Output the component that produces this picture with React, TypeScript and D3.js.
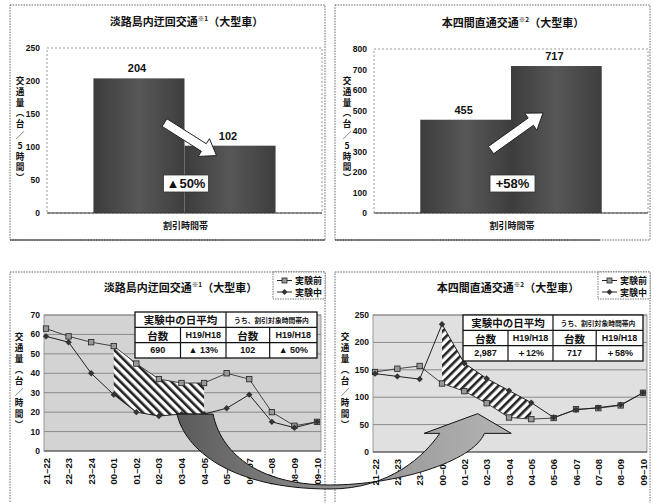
import React from 'react';
import * as d3 from 'd3';

// ---- data ----
const barGroups = ['実験前', '実験中'];
const awajiTotals = [204, 102];
const honshiTotals = [455, 717];
const awajiBarTicks = [0, 50, 100, 150, 200, 250];
const honshiBarTicks = [0, 100, 200, 300, 400, 500, 600, 700, 800];
const awajiChange = '▲50%';
const honshiChange = '+58%';

const hours = ['21-22', '22-23', '23-24', '00-01', '01-02', '02-03', '03-04', '04-05', '05-06', '06-07', '07-08', '08-09', '09-10'];
const discountHours = ['00-01', '01-02', '02-03', '03-04', '04-05'];
const awajiBefore = [63, 59, 56, 54, 45, 37, 35, 35, 40, 37, 20, 13, 15];
const awajiDuring = [59, 56, 40, 29, 20, 18, 19, 19, 22, 29, 15, 12, 15];
const honshiBefore = [146, 152, 157, 125, 111, 89, 63, 60, 62, 78, 80, 85, 108];
const honshiDuring = [143, 138, 133, 233, 162, 134, 112, 90, 63, 77, 81, 86, 108];
const awajiLineTicks = [0, 10, 20, 30, 40, 50, 60, 70];
const honshiLineTicks = [0, 50, 100, 150, 200, 250];

const tableTop = ['実験中の日平均', 'うち、割引対象時間帯内'];
const tableHead = ['台数', 'H19/H18', '台数', 'H19/H18'];
const awajiTable = ['690', '▲ 13%', '102', '▲ 50%'];
const honshiTable = ['2,987', '＋12%', '717', '＋58%'];
const legendLabels = ['実験前', '実験中'];

const barAxisTitle = ['交', '通', '量', '︵', '台', '／', '5', '時', '間', '︶'];
const lineAxisTitle = ['交', '通', '量', '︵', '台', '／', '時', '間', '︶'];

const FONT_JP = '"Noto Sans CJK JP", "Noto Sans", sans-serif';
const FONT_NUM = '"Liberation Sans Narrow", "Liberation Sans", Arial, sans-serif';

type Box = { x0: number; x1: number; y0: number; y1: number };

function VerticalTitle({ chars, x, y0, step }: { chars: string[]; x: number; y0: number; step: number }) {
  return (
    <g fontFamily={FONT_JP} fontWeight={700} fontSize={8.6} fill="#111" textAnchor="middle">
      {chars.map((c, i) => (
        <text key={i} x={x} y={y0 + i * step} dominantBaseline="central">{c}</text>
      ))}
    </g>
  );
}

function Title({ x, y, main, note }: { x: number; y: number; main: string; note: string }) {
  return (
    <text x={x} y={y} textAnchor="middle" fontFamily={FONT_JP} fontWeight={700} fontSize={11} fill="#111">
      {main}
      <tspan fontSize={6.5} dy={-5}>{note}</tspan>
      <tspan dy={5}>（大型車）</tspan>
    </text>
  );
}

function Frame({ x, y, w, h }: { x: number; y: number; w: number; h: number }) {
  return <rect x={x} y={y} width={w} height={h} fill="#fff" stroke="#666" strokeWidth={1} strokeDasharray="1.5 1.2" />;
}

function blockArrow(tail: [number, number], tip: [number, number]) {
  const dx = tip[0] - tail[0], dy = tip[1] - tail[1];
  const len = Math.hypot(dx, dy);
  const ux = dx / len, uy = dy / len;
  const nx = -uy, ny = ux;
  const w = 4.5, hw = 10.5, hl = 15;
  const bx = tip[0] - ux * hl, by = tip[1] - uy * hl;
  const pts: [number, number][] = [
    [tail[0] + nx * w, tail[1] + ny * w],
    [bx + nx * w, by + ny * w],
    [bx + nx * hw, by + ny * hw],
    tip,
    [bx - nx * hw, by - ny * hw],
    [bx - nx * w, by - ny * w],
    [tail[0] - nx * w, tail[1] - ny * w],
  ];
  return 'M' + pts.map((p) => p.join(',')).join('L') + 'Z';
}

function BarChart({ plot, title, note, values, ticks, change, arrowFrom, arrowTo, yTitleX }: {
  plot: Box; title: string; note: string; values: number[]; ticks: number[]; change: string;
  arrowFrom: number; arrowTo: number; yTitleX: number;
}) {
  const x = d3.scaleBand<string>().domain(barGroups).range([plot.x0, plot.x1]).paddingInner(0).paddingOuter(0.51);
  const y = d3.scaleLinear().domain([0, ticks[ticks.length - 1]]).range([plot.y1, plot.y0]);
  const edge = x(barGroups[1])!;
  const cx = (plot.x0 + plot.x1) / 2;
  const arrow = blockArrow([edge - 20, y(arrowFrom)], [edge + 32, y(arrowTo)]);
  return (
    <g>
      <Title x={cx + 2} y={plot.y0 - 22} main={title} note={note} />
      <rect x={plot.x0} y={plot.y0} width={plot.x1 - plot.x0} height={plot.y1 - plot.y0} fill="#fff" stroke="#999" strokeDasharray="2 2" />
      {values.map((v, i) => (
        <rect key={i} x={x(barGroups[i])} y={y(v)} width={x.bandwidth()} height={y(0) - y(v)} fill="url(#barFill)" />
      ))}
      <line x1={plot.x0} x2={plot.x1} y1={plot.y1} y2={plot.y1} stroke="#333" strokeWidth={1} />
      {values.map((v, i) => (
        <text key={i} x={x(barGroups[i])! + x.bandwidth() / 2 - 2} y={y(v) - 6} textAnchor="middle"
          fontFamily={FONT_NUM} fontWeight={700} fontSize={11} fill="#111">{v}</text>
      ))}
      {ticks.map((t) => (
        <text key={t} x={plot.x0 - 7} y={y(t)} textAnchor="end" dominantBaseline="central"
          fontFamily={FONT_NUM} fontWeight={700} fontSize={8.5} fill="#111">{t}</text>
      ))}
      <path d={arrow} fill="#fff" stroke="#222" strokeWidth={1} />
      <rect x={edge - 21} y={plot.y1 - 38} width={45} height={17} fill="#fff" stroke="#333" strokeWidth={0.8} />
      <text x={edge + 1.5} y={plot.y1 - 29.5} textAnchor="middle" dominantBaseline="central"
        fontFamily={FONT_NUM} fontWeight={700} fontSize={13} fill="#111">{change}</text>
      <text x={cx + 1} y={plot.y1 + 16} textAnchor="middle" fontFamily={FONT_JP} fontWeight={700} fontSize={9} fill="#111">割引時間帯</text>
      <VerticalTitle chars={barAxisTitle} x={yTitleX} y0={80} step={10.8} />
    </g>
  );
}

function DataTable({ box, cells }: { box: Box; cells: string[] }) {
  const fr = [0, 0.25, 0.5, 0.74, 1];
  const cx = fr.map((f) => box.x0 + f * (box.x1 - box.x0));
  const rh = (box.y1 - box.y0) / 3;
  const ry = [0, 1, 2, 3].map((i) => box.y0 + i * rh);
  const mid = (a: number, b: number) => (a + b) / 2;
  return (
    <g fontFamily={FONT_JP} fontWeight={700} fill="#111">
      <rect x={box.x0} y={box.y0} width={box.x1 - box.x0} height={box.y1 - box.y0} fill="#fff" stroke="#111" strokeWidth={1.3} />
      <line x1={box.x0} x2={box.x1} y1={ry[1]} y2={ry[1]} stroke="#111" strokeWidth={1.2} />
      <line x1={box.x0} x2={box.x1} y1={ry[2]} y2={ry[2]} stroke="#111" strokeWidth={1.2} />
      <line x1={cx[2]} x2={cx[2]} y1={ry[0]} y2={ry[3]} stroke="#111" strokeWidth={1.2} />
      <line x1={cx[1]} x2={cx[1]} y1={ry[1]} y2={ry[3]} stroke="#111" strokeWidth={1.2} />
      <line x1={cx[3]} x2={cx[3]} y1={ry[1]} y2={ry[3]} stroke="#111" strokeWidth={1.2} />
      <text x={mid(cx[0], cx[2])} y={mid(ry[0], ry[1])} textAnchor="middle" dominantBaseline="central" fontSize={10.5}>{tableTop[0]}</text>
      <text x={mid(cx[2], cx[4])} y={mid(ry[0], ry[1])} textAnchor="middle" dominantBaseline="central" fontSize={6.8}>{tableTop[1]}</text>
      {tableHead.map((t, i) => (
        <text key={i} x={mid(cx[i], cx[i + 1])} y={mid(ry[1], ry[2])} textAnchor="middle" dominantBaseline="central"
          fontSize={i % 2 === 0 ? 10.5 : 9} fontFamily={i % 2 === 0 ? FONT_JP : FONT_NUM}>{t}</text>
      ))}
      {cells.map((t, i) => (
        <text key={i} x={mid(cx[i], cx[i + 1])} y={mid(ry[2], ry[3])} textAnchor="middle" dominantBaseline="central"
          fontSize={9} fontFamily={FONT_NUM}>{t}</text>
      ))}
    </g>
  );
}

function Legend({ x0, y0 }: { x0: number; y0: number }) {
  return (
    <g>
      <rect x={x0} y={y0} width={52} height={27} fill="#fff" stroke="#555" strokeWidth={0.8} strokeDasharray="1.5 1" />
      {legendLabels.map((l, i) => {
        const yy = y0 + 8.5 + i * 11.5;
        return (
          <g key={l}>
            <line x1={x0 + 4} x2={x0 + 19} y1={yy} y2={yy} stroke="#222" strokeWidth={1} />
            {i === 0 ? (
              <rect x={x0 + 9} y={yy - 2.5} width={5} height={5} fill="#999" stroke="#222" strokeWidth={0.8} />
            ) : (
              <path d={`M${x0 + 11.5},${yy - 3}L${x0 + 14.5},${yy}L${x0 + 11.5},${yy + 3}L${x0 + 8.5},${yy}Z`} fill="#333" />
            )}
            <text x={x0 + 22} y={yy} dominantBaseline="central" fontFamily={FONT_JP} fontWeight={700} fontSize={9} fill="#111">{l}</text>
          </g>
        );
      })}
    </g>
  );
}

function LineChart({ plot, x, y, title, note, before, during, ticks, table, tableBox, legendX, hatch, bg, yTitleX }: {
  plot: Box; x: d3.ScalePoint<string>; y: d3.ScaleLinear<number, number>; title: string; note: string;
  before: number[]; during: number[]; ticks: number[]; table: string[]; tableBox: Box; legendX: number;
  hatch: string; bg: string; yTitleX: number;
}) {
  const line = d3.line<number>().x((_, i) => x(hours[i])!).y((d) => y(d));
  const idx = discountHours.map((h) => hours.indexOf(h));
  const area = d3.area<number>()
    .x((i) => x(hours[i])!)
    .y0((i) => y(Math.min(before[i], during[i])))
    .y1((i) => y(Math.max(before[i], during[i])));
  return (
    <g>
      <Title x={(plot.x0 + plot.x1) / 2 - 2} y={plot.y0 - 23} main={title} note={note} />
      <rect x={plot.x0} y={plot.y0} width={plot.x1 - plot.x0} height={plot.y1 - plot.y0} fill={bg} stroke="#888" strokeWidth={0.8} />
      {ticks.slice(1).map((t) => (
        <line key={t} x1={plot.x0} x2={plot.x1} y1={y(t)} y2={y(t)} stroke="#8a8a8a" strokeWidth={1} />
      ))}
      <line x1={plot.x0} x2={plot.x1} y1={plot.y1} y2={plot.y1} stroke="#444" strokeWidth={1} />
      <path d={area(idx) ?? ''} fill={`url(#${hatch})`} />
      <path d={line(before) ?? ''} fill="none" stroke="#444" strokeWidth={1} />
      <path d={line(during) ?? ''} fill="none" stroke="#222" strokeWidth={1} />
      {before.map((v, i) => (
        <rect key={i} x={x(hours[i])! - 2.7} y={y(v) - 2.7} width={5.4} height={5.4} fill="#999" stroke="#222" strokeWidth={0.8} />
      ))}
      {during.map((v, i) => {
        const px = x(hours[i])!, py = y(v);
        return <path key={i} d={`M${px},${py - 3.2}L${px + 3.2},${py}L${px},${py + 3.2}L${px - 3.2},${py}Z`} fill="#333" />;
      })}
      {ticks.map((t) => (
        <text key={t} x={plot.x0 - 4} y={y(t)} textAnchor="end" dominantBaseline="central"
          fontFamily={FONT_NUM} fontWeight={700} fontSize={8.5} fill="#111">{t}</text>
      ))}
      {hours.map((h) => (
        <text key={h} transform={`translate(${x(h)},${plot.y1 + 7}) rotate(-90)`} textAnchor="end" dominantBaseline="central"
          fontFamily={FONT_NUM} fontWeight={700} fontSize={9.5} fill="#111">{h.replace('-', '–')}</text>
      ))}
      <DataTable box={tableBox} cells={table} />
      <Legend x0={legendX} y0={plot.y0 - 43} />
      <VerticalTitle chars={lineAxisTitle} x={yTitleX} y0={336} step={11} />
    </g>
  );
}

export default function App() {
  const topLeft: Box = { x0: 47, x1: 322, y0: 48, y1: 213 };
  const topRight: Box = { x0: 374, x1: 648, y0: 49, y1: 213 };
  const lowLeft: Box = { x0: 44, x1: 321, y0: 315, y1: 451 };
  const lowRight: Box = { x0: 373, x1: 647, y0: 315, y1: 452 };

  const xL = d3.scalePoint<string>().domain(hours).range([46, 317]);
  const yL = d3.scaleLinear().domain([0, 70]).range([lowLeft.y1, lowLeft.y0]);
  const xR = d3.scalePoint<string>().domain(hours).range([375, 643]);
  const yR = d3.scaleLinear().domain([0, 250]).range([lowRight.y1, lowRight.y0]);

  // curved transfer arrow between the two hourly charts
  const atL = (f: number) => xL(hours[0])! + f * xL.step();
  const atR = (f: number) => xR(hours[0])! + f * xR.step();
  const sy = yL(awajiDuring[hours.indexOf('04-05')]);
  const o0: [number, number] = [atL(5.8), sy];
  const i0: [number, number] = [atL(7.4), sy];
  const bx = 330, byO = lowLeft.y1 + 38, byI = lowLeft.y1 + 34;
  const headY = yR(34), tipY = yR(70);
  const hO = atR(2.9), hI = atR(4.9);
  const curve =
    `M${o0[0]},${o0[1]}` +
    `C${o0[0] + 8},${o0[1] + 35} ${bx - 100},${byO} ${bx},${byO}` +
    `C${bx + 60},${byO} ${hO - 15},${headY + 22} ${hO},${headY}` +
    `L${atR(2.2)},${headY}L${atR(4.6)},${tipY}L${atR(6.1)},${headY}L${hI},${headY}` +
    `C${hI - 12},${headY + 29} ${bx + 65},${byI} ${bx},${byI}` +
    `C${bx - 75},${byI} ${i0[0] + 7},${i0[1] + 36} ${i0[0]},${i0[1]}Z`;

  return (
    <svg width={654} height={503} style={{ position: 'absolute', left: 0, top: 0 }}>
      <defs>
        <linearGradient id="barFill" x1="0" x2="1" y1="0" y2="0">
          <stop offset="0" stopColor="#3c3c3c" />
          <stop offset="0.5" stopColor="#575757" />
          <stop offset="1" stopColor="#3e3e3e" />
        </linearGradient>
        <pattern id="hatchL" width={6} height={6} patternUnits="userSpaceOnUse" patternTransform="rotate(-45)">
          <rect width={6} height={6} fill="#fff" />
          <rect width={2.6} height={6} fill="#222" />
        </pattern>
        <pattern id="hatchR" width={6} height={6} patternUnits="userSpaceOnUse" patternTransform="rotate(45)">
          <rect width={6} height={6} fill="#fff" />
          <rect width={2.6} height={6} fill="#222" />
        </pattern>
        <linearGradient id="bendFill" gradientUnits="userSpaceOnUse" x1={o0[0]} x2={atR(6.1)} y1={0} y2={0}>
          <stop offset="0" stopColor="#5a5a5a" />
          <stop offset="0.45" stopColor="#8e8e8e" />
          <stop offset="1" stopColor="#b4b4b4" />
        </linearGradient>
      </defs>
      <rect width={654} height={503} fill="#fff" />

      <Frame x={10} y={5} w={315} h={235} />
      <Frame x={335} y={5} w={315} h={235} />
      <line x1={10} x2={325} y1={240} y2={240} stroke="#222" />
      <line x1={335} x2={600} y1={240} y2={240} stroke="#222" />
      <Frame x={10} y={272} w={315} h={240} />
      <Frame x={335} y={272} w={315} h={240} />

      <BarChart plot={topLeft} title="淡路島内迂回交通" note="※1" values={awajiTotals} ticks={awajiBarTicks}
        change={awajiChange} arrowFrom={137} arrowTo={87} yTitleX={20} />
      <BarChart plot={topRight} title="本四間直通交通" note="※2" values={honshiTotals} ticks={honshiBarTicks}
        change={honshiChange} arrowFrom={307} arrowTo={488} yTitleX={347} />

      <LineChart plot={lowLeft} x={xL} y={yL} title="淡路島内迂回交通" note="※1" before={awajiBefore} during={awajiDuring}
        ticks={awajiLineTicks} table={awajiTable} tableBox={{ x0: 135, x1: 317, y0: 312, y1: 358 }} legendX={273}
        hatch="hatchL" bg="#d3d3d3" yTitleX={19} />
      <LineChart plot={lowRight} x={xR} y={yR} title="本四間直通交通" note="※2" before={honshiBefore} during={honshiDuring}
        ticks={honshiLineTicks} table={honshiTable} tableBox={{ x0: 463, x1: 643, y0: 315, y1: 361 }} legendX={598}
        hatch="hatchR" bg="#e0e0e0" yTitleX={345} />

      <path d={curve} fill="url(#bendFill)" stroke="#111" strokeWidth={1} />
    </svg>
  );
}
